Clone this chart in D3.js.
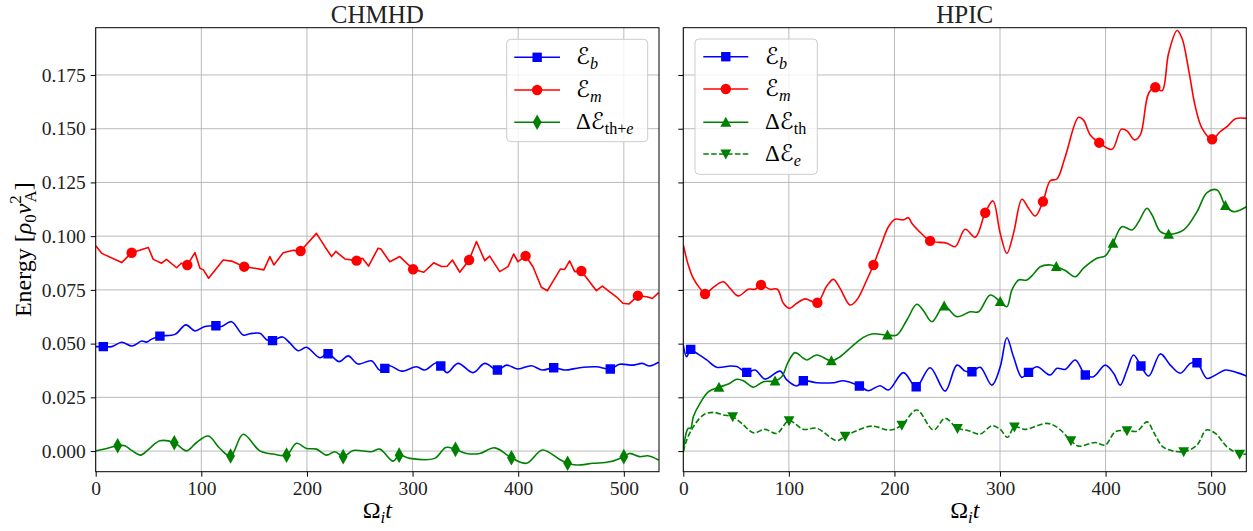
<!DOCTYPE html>
<html><head><meta charset="utf-8">
<script src="https://cdn.jsdelivr.net/npm/d3@7"></script>
<style>body{margin:0;background:#fff}svg{display:block}</style>
</head><body>
<svg id="c" width="1253" height="531"></svg>
<script>
// ---------------- DATA ----------------
const xTicks = [0, 100, 200, 300, 400, 500];
const yTicks = [0, 0.025, 0.05, 0.075, 0.1, 0.125, 0.15, 0.175];
const panelTitles = ["CHMHD", "HPIC"];

// CHMHD: magnetic energy E_b
const chmhdEbT = [0, 7.2, 15.1, 24.6, 34.6, 43.5, 48, 53, 60.8, 75, 85.4, 94, 103.4, 113.8, 119.2, 128.6, 139.6, 146, 155.4, 162.3, 167.4, 176.9, 184, 191.7, 199.6, 212.2, 220, 230.5, 239, 248.4, 261, 269, 273.7, 278.4, 289.5, 303.7, 311.5, 322.6, 326.7, 332.7, 343, 357.2, 368.3, 380.3, 388.9, 399.8, 412.5, 422.9, 433.6, 444, 458.2, 474, 487.2, 496, 508.6, 517.5, 524.4, 533];
const chmhdEb = [0.0486, 0.0486, 0.0486, 0.0506, 0.0489, 0.0512, 0.0507, 0.0521, 0.0535, 0.0543, 0.0587, 0.0559, 0.0580, 0.0583, 0.0580, 0.0602, 0.0540, 0.0546, 0.0548, 0.0517, 0.0514, 0.0531, 0.0502, 0.0467, 0.0483, 0.0434, 0.0453, 0.0416, 0.0443, 0.0405, 0.0420, 0.0376, 0.0385, 0.0397, 0.0372, 0.0392, 0.0377, 0.0411, 0.0396, 0.0365, 0.0408, 0.0365, 0.0408, 0.0377, 0.0400, 0.0382, 0.0397, 0.0377, 0.0388, 0.0377, 0.0388, 0.0392, 0.0382, 0.0404, 0.0400, 0.0408, 0.0396, 0.0413];
const chmhdEbMarks = [7.2, 60.8, 113.8, 167.4, 220, 273.7, 326.7, 380.3, 433.6, 487.2];

// CHMHD: kinetic energy E_m
const chmhdEmT = [0, 5.7, 24.6, 34, 49.8, 54.5, 62.4, 67, 76.6, 81, 86.7, 94, 98.7, 102, 106.9, 120.7, 128.6, 140.6, 150.7, 159.2, 164.9, 168.7, 177.5, 187, 194, 209, 217, 223.3, 227.3, 235.9, 247, 252.6, 258.3, 267.4, 270, 278.4, 287.9, 300.5, 310.6, 320, 327.3, 332.7, 337.7, 344.7, 353.5, 360.5, 368.3, 373, 382.5, 390.4, 395.7, 399.8, 407, 414, 421.9, 427.6, 432.9, 439.9, 444, 448.7, 453.5, 459.8, 474, 479.6, 492.9, 499.1, 504.8, 513.3, 521.9, 527, 533];
const chmhdEm = [0.0955, 0.0920, 0.0877, 0.0923, 0.0947, 0.0892, 0.0874, 0.0892, 0.0853, 0.0874, 0.0866, 0.0923, 0.0851, 0.0843, 0.0804, 0.0889, 0.0884, 0.0858, 0.0851, 0.0843, 0.0905, 0.0866, 0.0923, 0.0934, 0.0931, 0.1013, 0.0951, 0.0905, 0.0929, 0.0894, 0.0886, 0.0897, 0.0861, 0.0944, 0.0940, 0.0881, 0.0905, 0.0846, 0.0832, 0.0876, 0.0859, 0.0860, 0.0889, 0.0832, 0.0889, 0.0975, 0.0886, 0.0907, 0.0835, 0.0858, 0.0917, 0.0881, 0.0908, 0.0858, 0.0762, 0.0746, 0.0790, 0.0847, 0.0845, 0.0885, 0.0835, 0.0838, 0.0746, 0.0768, 0.0718, 0.0688, 0.0684, 0.0723, 0.0718, 0.0710, 0.0737];
const chmhdEmMarks = [34, 86.7, 140.6, 194, 247, 300.5, 353.5, 407, 459.8, 513.3];

// CHMHD: Delta E_th+e
const chmhdDthT = [0, 10.4, 20.8, 27.7, 34, 42.6, 49.8, 60.8, 74.4, 86.1, 95.5, 106.5, 117.6, 127.7, 139.6, 155.4, 168, 180.7, 190.1, 199.6, 209, 218.5, 226.4, 234.3, 243.7, 261, 269, 281.6, 287.3, 297.4, 321, 331.4, 340.6, 351, 363.6, 377.8, 393.6, 407.8, 422.9, 439.3, 446.8, 455.1, 470.8, 486.6, 500, 505.5, 515, 522.8, 533];
const chmhdDth = [0.0001, 0.0012, 0.0025, 0.0025, 0.0003, -0.0019, 0.0007, 0.0048, 0.0039, 0.0001, 0.0040, 0.0070, 0.0012, -0.0023, 0.0078, 0.0001, -0.0014, -0.0019, 0.0036, 0.0012, 0.0009, -0.0019, -0.0003, -0.0026, 0.0003, -0.0003, 0.0009, -0.0047, -0.0019, -0.0034, -0.0034, 0.0017, 0.0008, -0.0011, -0.0011, 0.0015, -0.0031, -0.0057, 0.0005, -0.0039, -0.0057, -0.0065, -0.0057, -0.0050, -0.0026, -0.0011, -0.0026, -0.0022, -0.0042];
const chmhdDthMarks = [20.8, 74.4, 127.7, 180.7, 234.3, 287.3, 340.6, 393.6, 446.8, 500];

// HPIC: E_b
const hpicEbT = [0, 3.2, 7, 12.7, 22.2, 31.7, 44.3, 50.6, 60.1, 68, 77.4, 91.7, 98, 107.5, 113.7, 126.4, 142.2, 151.7, 166.8, 175.4, 186.4, 194.3, 208.5, 220.6, 233.8, 248, 259.2, 267, 273.4, 281.2, 292.3, 300.2, 306.5, 312.8, 320.7, 327, 335, 347.6, 353.9, 361.8, 371.3, 380.8, 388.6, 399.7, 407.6, 413.9, 420.3, 426.5, 433.5, 440.8, 451.9, 461.3, 470.8, 480.3, 486.6, 496.1, 505.6, 513.5, 524.5, 533.4];
const hpicEb = [0.0493, 0.0439, 0.0473, 0.0455, 0.0424, 0.0390, 0.0396, 0.0393, 0.0366, 0.0377, 0.0335, 0.0372, 0.0331, 0.0303, 0.0327, 0.0318, 0.0318, 0.0327, 0.0303, 0.0281, 0.0304, 0.0284, 0.0365, 0.0299, 0.0388, 0.0279, 0.0400, 0.0372, 0.0369, 0.0390, 0.0307, 0.0392, 0.0527, 0.0439, 0.0343, 0.0366, 0.0392, 0.0354, 0.0385, 0.0380, 0.0424, 0.0354, 0.0346, 0.0400, 0.0362, 0.0307, 0.0377, 0.0447, 0.0396, 0.0349, 0.0452, 0.0400, 0.0362, 0.0408, 0.0411, 0.0338, 0.0358, 0.0377, 0.0365, 0.0349];
const hpicEbMarks = [7, 60.1, 113.7, 166.8, 220.6, 273.4, 327, 380.8, 433.5, 486.6];

// HPIC: E_m
const hpicEmT = [0, 4.7, 9.5, 15.8, 20.6, 28.4, 37.9, 44.3, 52.1, 61.6, 68, 73.6, 82.2, 89.1, 94.8, 100.5, 107.5, 115.4, 120.1, 127, 135.9, 142.2, 148.5, 158, 164.3, 173.8, 180.1, 188, 194.3, 200.7, 208.5, 213.3, 216.5, 226, 233.8, 249.7, 257.5, 267, 276.5, 286, 293.3, 300.2, 306.5, 312.8, 320.8, 327, 333.4, 340.7, 347.6, 353.9, 361.8, 374.4, 379.1, 385.5, 394, 406.1, 414.9, 420.3, 427.5, 432.9, 440.8, 447.1, 453.5, 459.7, 467.7, 472.4, 478.7, 485, 491.4, 500.9, 508.7, 515.1, 523, 533.4];
const hpicEm = [0.0959, 0.0866, 0.0804, 0.0757, 0.0731, 0.0762, 0.0788, 0.0757, 0.0722, 0.0753, 0.0753, 0.0773, 0.0753, 0.0753, 0.0688, 0.0664, 0.0688, 0.0708, 0.0700, 0.0690, 0.0768, 0.0799, 0.0757, 0.0680, 0.0703, 0.0796, 0.0866, 0.0967, 0.1044, 0.1079, 0.1076, 0.1086, 0.1060, 0.1010, 0.0978, 0.0967, 0.0951, 0.1032, 0.0995, 0.1109, 0.1164, 0.1013, 0.0920, 0.1013, 0.1172, 0.1130, 0.1094, 0.1161, 0.1258, 0.1266, 0.1370, 0.1553, 0.1540, 0.1471, 0.1435, 0.1404, 0.1498, 0.1490, 0.1448, 0.1471, 0.1665, 0.1693, 0.1677, 0.1851, 0.1957, 0.1921, 0.1774, 0.1603, 0.1502, 0.1451, 0.1487, 0.1510, 0.1546, 0.1548];
const hpicEmMarks = [20.6, 73.6, 127, 180.1, 233.8, 286, 340.7, 394, 447.1, 500.9];

// HPIC: Delta E_th
const hpicDthT = [0, 2.6, 4.7, 7, 9.5, 15.8, 23.7, 33.8, 42.7, 50.6, 56.9, 66.4, 75.8, 86.9, 93.3, 99.5, 105.9, 113.7, 117, 126.4, 140.3, 148.5, 159.6, 170.6, 178.6, 193.4, 202.3, 211.8, 221.2, 227.5, 235.5, 247.1, 259.2, 271.8, 279.7, 290.7, 300.2, 306.5, 311.3, 317.6, 325.5, 331.8, 338.1, 347.6, 353.3, 361.8, 371.3, 379.1, 391.8, 399.7, 407, 415.5, 425, 431.3, 439.2, 444, 451.9, 459.7, 474, 486.6, 496.1, 505.6, 513.5, 521.3, 533.4];
const hpicDth = [-0.0003, 0.0082, 0.0106, 0.0106, 0.0160, 0.0222, 0.0276, 0.0297, 0.0312, 0.0334, 0.0327, 0.0297, 0.0323, 0.0326, 0.0346, 0.0416, 0.0458, 0.0432, 0.0424, 0.0447, 0.0420, 0.0439, 0.0486, 0.0529, 0.0545, 0.0540, 0.0540, 0.0610, 0.0683, 0.0653, 0.0602, 0.0675, 0.0625, 0.0648, 0.0648, 0.0726, 0.0695, 0.0672, 0.0750, 0.0796, 0.0796, 0.0824, 0.0858, 0.0866, 0.0858, 0.0840, 0.0811, 0.0851, 0.0897, 0.0908, 0.0967, 0.1044, 0.1029, 0.1067, 0.1130, 0.1099, 0.1021, 0.1009, 0.1029, 0.1114, 0.1203, 0.1215, 0.1142, 0.1114, 0.1137];
const hpicDthMarks = [33.8, 86.9, 140.3, 193.4, 247.1, 300.2, 353.3, 407, 459.7, 513.5];

// HPIC: Delta E_e
const hpicDeT = [0, 3.2, 9.5, 19, 28.4, 37.9, 46.8, 55.3, 66.4, 77.4, 88.5, 100.2, 113.7, 126.4, 145.4, 153.3, 164.3, 178.6, 195.9, 207, 221.2, 237, 248, 259.7, 270.1, 281.2, 292.3, 300.2, 307.1, 313.7, 323.9, 344.4, 355.5, 367.2, 374.4, 390.2, 399.7, 409.2, 420.3, 429.8, 439.3, 446.2, 455, 474, 486.6, 495.5, 504, 515, 527, 533.4];
const hpicDe = [-0.0003, 0.0051, 0.0113, 0.0168, 0.0180, 0.0168, 0.0160, 0.0129, 0.0085, 0.0101, 0.0082, 0.0141, 0.0101, 0.0106, 0.0048, 0.0070, 0.0095, 0.0116, 0.0098, 0.0121, 0.0191, 0.0098, 0.0152, 0.0106, 0.0095, 0.0079, 0.0118, 0.0101, 0.0064, 0.0113, 0.0101, 0.0129, 0.0106, 0.0048, 0.0023, 0.0040, 0.0028, 0.0090, 0.0095, 0.0093, 0.0136, 0.0082, 0.0017, -0.0003, 0.0028, 0.0098, 0.0082, 0.0020, -0.0014, -0.0014];
const hpicDeMarks = [46.8, 100.2, 153.3, 207, 259.7, 313.7, 367.2, 420.3, 474, 527];

// ---------------- DRAWING ----------------
const FONT = "'Liberation Serif','DejaVu Serif',serif";
const MATHFONT = "'Liberation Serif','DejaVu Serif','DejaVu Sans',serif";
const BLUE = "#0000ff", RED = "#ff0000", GREEN = "#008000";
const svg = d3.select("#c");
const TOP = 27.7, BOTTOM = 471.7;
const y = d3.scaleLinear().domain([-0.0096, 0.197]).range([BOTTOM, TOP]);

const markerPath = {
  square: "M-4.7,-4.7H4.7V4.7H-4.7Z",
  circle: "M5.2,0A5.2,5.2 0 1,1 -5.2,0A5.2,5.2 0 1,1 5.2,0Z",
  thin_diamond: "M0,-7.8L4.4,0L0,7.8L-4.4,0Z",
  tri_up: "M0,-5.6L5.4,4.4L-5.4,4.4Z",
  tri_down: "M0,5.6L5.4,-4.4L-5.4,-4.4Z"
};

const lab = {
  Eb: [{t: "ℰ"}, {t: "b", it: 1, sub: 1}],
  Em: [{t: "ℰ"}, {t: "m", it: 1, sub: 1}],
  Dthe: [{t: "Δℰ"}, {t: "th+", sub: 1}, {t: "e", it: 1, sub: 1}],
  Dth: [{t: "Δℰ"}, {t: "th", sub: 1}],
  De: [{t: "Δℰ"}, {t: "e", it: 1, sub: 1}]
};

const panels = [
  {title: panelTitles[0], x0: 95.7, x1: 659, yLabels: true,
   series: [
     {t: chmhdEbT, v: chmhdEb, color: BLUE, marker: "square", marks: chmhdEbMarks, label: lab.Eb},
     {t: chmhdEmT, v: chmhdEm, color: RED, marker: "circle", marks: chmhdEmMarks, label: lab.Em, linear: true},
     {t: chmhdDthT, v: chmhdDth, color: GREEN, marker: "thin_diamond", marks: chmhdDthMarks, label: lab.Dthe}
   ],
   legend: {x0: 506.7, x1: 647.7, y0: 39.3, y1: 141.7, lx0: 514.3, lx1: 560, tx: 576, rows: [57.3, 90, 122.3]}},
  {title: panelTitles[1], x0: 683.3, x1: 1246.3, yLabels: false,
   series: [
     {t: hpicEbT, v: hpicEb, color: BLUE, marker: "square", marks: hpicEbMarks, label: lab.Eb},
     {t: hpicEmT, v: hpicEm, color: RED, marker: "circle", marks: hpicEmMarks, label: lab.Em},
     {t: hpicDthT, v: hpicDth, color: GREEN, marker: "tri_up", marks: hpicDthMarks, label: lab.Dth},
     {t: hpicDeT, v: hpicDe, color: GREEN, marker: "tri_down", marks: hpicDeMarks, label: lab.De, dash: "5.5,2.4"}
   ],
   legend: {x0: 695, x1: 817.3, y0: 39, y1: 174.3, lx0: 703.3, lx1: 748.3, tx: 765, rows: [56.7, 89, 122.3, 154]}}
];

function rich(sel, x, yy, parts, size, anchor) {
  const t = sel.append("text").attr("x", x).attr("y", yy)
    .attr("font-family", MATHFONT).attr("font-size", size)
    .attr("text-anchor", anchor || "start").attr("fill", "#000");
  let cur = 0;
  parts.forEach(p => {
    const sc = (p.sub || p.sup) ? 0.7 : 1;
    const off = p.sub ? size * 0.22 : (p.sup ? -size * 0.42 : 0);
    const ts = t.append("tspan").text(p.t).attr("font-size", size * sc).attr("dy", off - cur);
    if (p.it) ts.attr("font-style", "italic");
    if (p.dx) ts.attr("dx", p.dx * size);
    cur = off;
  });
  return t;
}

function interp(ts, vs, tq) {
  const i = Math.max(1, Math.min(ts.length - 1, d3.bisectLeft(ts, tq)));
  const a = ts[i - 1], b = ts[i];
  const f = (tq - a) / (b - a);
  return vs[i - 1] + f * (vs[i] - vs[i - 1]);
}

panels.forEach((P, pi) => {
  const x = d3.scaleLinear().domain([0, 533.3]).range([P.x0, P.x1]);
  const g = svg.append("g");

  // grid
  g.append("g").selectAll("line").data(xTicks).join("line")
    .attr("x1", d => x(d)).attr("x2", d => x(d)).attr("y1", TOP).attr("y2", BOTTOM)
    .attr("stroke", "#b0b0b0").attr("stroke-width", 1).attr("opacity", 0.85);
  g.append("g").selectAll("line").data(yTicks).join("line")
    .attr("x1", P.x0).attr("x2", P.x1).attr("y1", d => y(d)).attr("y2", d => y(d))
    .attr("stroke", "#b0b0b0").attr("stroke-width", 1).attr("opacity", 0.85);

  // clip
  const cid = "clip" + pi;
  svg.append("clipPath").attr("id", cid).append("rect")
    .attr("x", P.x0).attr("y", TOP).attr("width", P.x1 - P.x0).attr("height", BOTTOM - TOP);

  const plot = g.append("g").attr("clip-path", `url(#${cid})`);
  P.series.forEach(s => {
    const pts = s.t.map((tt, i) => [tt, s.v[i]]);
    const line = d3.line().x(d => x(d[0])).y(d => y(d[1]))
      .curve(s.linear ? d3.curveLinear : d3.curveCatmullRom.alpha(0.5));
    plot.append("path").attr("d", line(pts)).attr("fill", "none")
      .attr("stroke", s.color).attr("stroke-width", 1.6)
      .attr("stroke-linejoin", "round")
      .attr("stroke-dasharray", s.dash || null);
    plot.append("g").selectAll("path").data(s.marks).join("path")
      .attr("d", markerPath[s.marker])
      .attr("transform", m => `translate(${x(m)},${y(interp(s.t, s.v, m))})`)
      .attr("fill", s.color);
  });

  // spines
  g.append("rect").attr("x", P.x0).attr("y", TOP).attr("width", P.x1 - P.x0).attr("height", BOTTOM - TOP)
    .attr("fill", "none").attr("stroke", "#000").attr("stroke-width", 1);

  // axes
  const xa = d3.axisBottom(x).tickValues(xTicks).tickSize(5).tickPadding(4).tickFormat(d3.format("d"));
  const xg = g.append("g").attr("transform", `translate(0,${BOTTOM})`).call(xa);
  const ya = d3.axisLeft(y).tickValues(yTicks).tickSize(5).tickPadding(5)
    .tickFormat(P.yLabels ? d3.format(".3f") : () => "");
  const yg = g.append("g").attr("transform", `translate(${P.x0},0)`).call(ya);
  [xg, yg].forEach(a => {
    a.select(".domain").remove();
    a.selectAll(".tick line").attr("stroke", "#000").attr("stroke-width", 1);
    a.selectAll(".tick text").attr("font-family", FONT).attr("font-size", 19.5).attr("fill", "#222");
  });

  // title
  g.append("text").attr("x", (P.x0 + P.x1) / 2).attr("y", 23).attr("text-anchor", "middle")
    .attr("font-family", FONT).attr("font-size", 25).attr("fill", "#222").text(P.title);

  // x label
  rich(g, (P.x0 + P.x1) / 2, 518, [{t: "Ω"}, {t: "i", it: 1, sub: 1}, {t: "t", it: 1}], 24, "middle");

  // legend
  const L = P.legend;
  const lg = g.append("g");
  lg.append("rect").attr("x", L.x0).attr("y", L.y0).attr("width", L.x1 - L.x0).attr("height", L.y1 - L.y0)
    .attr("rx", 4).attr("fill", "#fff").attr("fill-opacity", 0.8).attr("stroke", "#cccccc").attr("stroke-width", 1);
  P.series.forEach((s, i) => {
    const ry = L.rows[i];
    lg.append("line").attr("x1", L.lx0).attr("x2", L.lx1).attr("y1", ry).attr("y2", ry)
      .attr("stroke", s.color).attr("stroke-width", 1.6).attr("stroke-dasharray", s.dash || null);
    lg.append("path").attr("d", markerPath[s.marker])
      .attr("transform", `translate(${(L.lx0 + L.lx1) / 2},${ry})`).attr("fill", s.color);
    rich(lg, L.tx, ry + 7, s.label, 23, "start");
  });
});

// y label
const yl = svg.append("g").attr("transform", `translate(31,${(TOP + BOTTOM) / 2}) rotate(-90)`);
rich(yl, 0, 0, [{t: "Energy ["}, {t: "ρ", it: 1}, {t: "0", sub: 1}, {t: "v", it: 1},
  {t: "2", sup: 1}, {t: "A", sub: 1, dx: -0.3}, {t: "]"}], 24, "middle");
</script>
</body></html>
